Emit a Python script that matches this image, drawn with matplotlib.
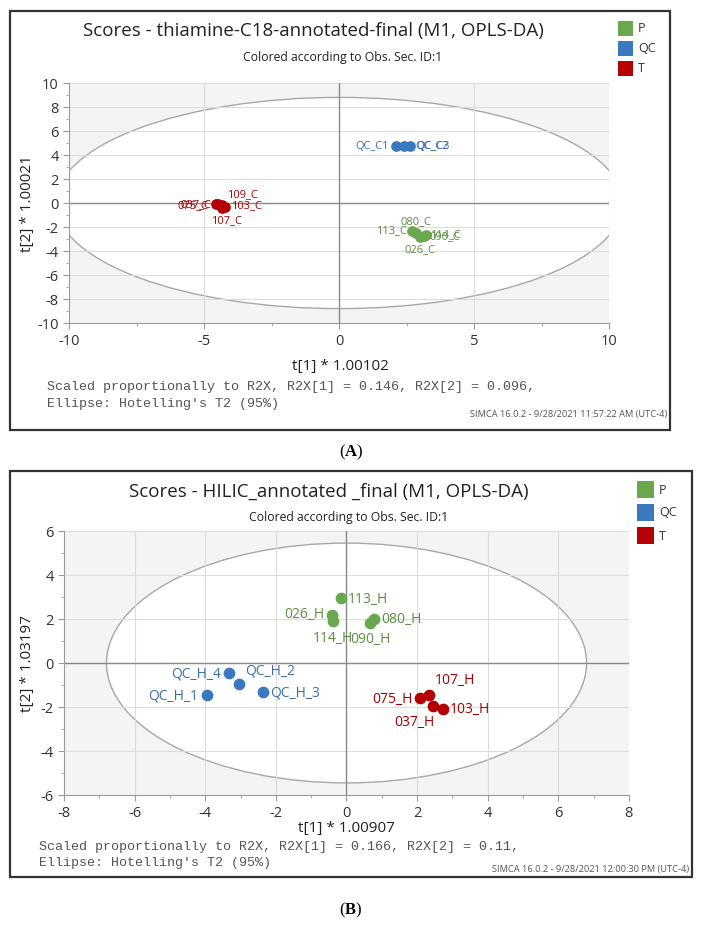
import numpy as np
import matplotlib
matplotlib.use('Agg')
from matplotlib import pyplot as plt
from matplotlib.patches import Ellipse, Rectangle

W, H = 702, 929

# colours of the three classes
class_names = ['P', 'QC', 'T']
class_colors = ['#6aa84f', '#3a78c0', '#b40000']

# panel A: thiamine-C18
c18_p_names = ['113_C', '080_C', '026_C', '090_C', '114_C']
c18_p_x = [2.7, 2.85, 3.0, 3.15, 3.2]
c18_p_y = [-2.35, -2.5, -2.8, -2.75, -2.7]
c18_qc_names = ['QC_C1', 'QC_C2', 'QC_C3']
c18_qc_x = [2.1, 2.4, 2.6]
c18_qc_y = [4.75, 4.75, 4.75]
c18_t_names = ['037_C', '075_C', '109_C', '103_C', '107_C']
c18_t_x = [-4.55, -4.5, -4.35, -4.25, -4.35]
c18_t_y = [-0.05, -0.1, -0.15, -0.35, -0.45]

# panel B: HILIC
hil_p_names = ['113_H', '026_H', '114_H', '080_H', '090_H']
hil_p_x = [-0.16, -0.42, -0.39, 0.79, 0.67]
hil_p_y = [2.94, 2.18, 1.92, 2.0, 1.8]
hil_qc_names = ['QC_H_4', 'QC_H_2', 'QC_H_1', 'QC_H_3']
hil_qc_x = [-3.32, -3.04, -3.96, -2.36]
hil_qc_y = [-0.47, -0.95, -1.45, -1.31]
hil_t_names = ['075_H', '107_H', '037_H', '103_H']
hil_t_x = [2.08, 2.33, 2.46, 2.73]
hil_t_y = [-1.6, -1.45, -1.97, -2.09]

plt.rcParams['font.family'] = ['Open Sans', 'DejaVu Sans']
plt.rcParams['mathtext.fontset'] = 'custom'
plt.rcParams['mathtext.rm'] = 'Liberation Serif'
plt.rcParams['mathtext.bf'] = 'Liberation Serif:bold'

fig = plt.figure(figsize=(W / 100, H / 100), dpi=100)


def fbox(l, t, r, b):
    return [l / W, 1 - b / H, (r - l) / W, (b - t) / H]


def ftext(x, y, s, **kw):
    fig.text(x / W, 1 - y / H, s, va='center', **kw)


def frame(l, t, r, b):
    fig.add_artist(Rectangle((l / W, 1 - b / H), (r - l) / W, (b - t) / H,
                             transform=fig.transFigure, fill=False,
                             ec='#333333', lw=1.6))


def legend(x, y0, step, size):
    for i, (n, c) in enumerate(zip(class_names, class_colors)):
        y = y0 + i * step
        fig.add_artist(Rectangle((x / W, 1 - (y + size / 2) / H), size / W, size / H,
                                 transform=fig.transFigure, fc=c, ec='none'))
        ftext(x + size + 5, y, n, fontsize=9, color='#333333')


def style_axes(ax, xlim, ylim, xmaj, xmin, ymaj, ymin, ell):
    ax.set_facecolor('#f4f4f4')
    ax.add_patch(Ellipse((0, 0), 2 * ell[0], 2 * ell[1], fc='white',
                         ec='#a8a8a8', lw=1.0, zorder=1))
    ax.set_xlim(*xlim)
    ax.set_ylim(*ylim)
    ax.set_xticks(np.arange(xlim[0], xlim[1] + 0.01, xmaj))
    ax.set_xticks(np.arange(xlim[0], xlim[1] + 0.01, xmin), minor=True)
    ax.set_yticks(np.arange(ylim[0], ylim[1] + 0.01, ymaj))
    ax.set_yticks(np.arange(ylim[0], ylim[1] + 0.01, ymin), minor=True)
    ax.set_xticklabels([f'{v:g}' for v in ax.get_xticks()])
    ax.set_yticklabels([f'{v:g}' for v in ax.get_yticks()])
    ax.grid(True, which='major', color='#dcdcdc', lw=0.8)
    ax.axhline(0, color='#8a8a8a', lw=1.0, zorder=1.6)
    ax.axvline(0, color='#8a8a8a', lw=1.0, zorder=1.6)
    for s in ['top', 'right']:
        ax.spines[s].set_visible(False)
    for s in ['left', 'bottom']:
        ax.spines[s].set_color('#9a9a9a')
    ax.tick_params(which='major', length=4, color='#9a9a9a', labelsize=10.5,
                   labelcolor='#333333')
    ax.tick_params(which='minor', length=2, color='#9a9a9a')


def label_points(ax, xs, ys, names, offsets, color, size):
    for x, y, n in zip(xs, ys, names):
        dx, dy, ha = offsets[n]
        ax.annotate(n, (x, y), xytext=(dx, dy), textcoords='offset points',
                    ha=ha, va='center', fontsize=size, color=color, zorder=4)


# ---------- panel A ----------
frame(10, 12, 670, 431)
ftext(313, 31, 'Scores - thiamine-C18-annotated-final (M1, OPLS-DA)', fontsize=13.5,
      ha='center', color='#222222')
ftext(343, 57, 'Colored according to Obs. Sec. ID:1', fontsize=8.8, ha='center',
      color='#222222')
legend(618, 29, 20, 15)

axA = fig.add_axes(fbox(69.3, 84, 609.3, 324))
style_axes(axA, (-10, 10), (-10, 10), 5, 2.5, 2, 1, (10.5, 8.8))
axA.scatter(c18_p_x, c18_p_y, s=45, color=class_colors[0], zorder=3)
axA.scatter(c18_qc_x, c18_qc_y, s=45, color=class_colors[1], zorder=3)
axA.scatter(c18_t_x, c18_t_y, s=45, color=class_colors[2], zorder=3)
offA = {
    '113_C': (-4, 1, 'right'), '080_C': (0, 9, 'center'), '026_C': (0, -9, 'center'),
    '090_C': (4, 0, 'left'), '114_C': (3, 1, 'left'),
    'QC_C1': (-5, 0, 'right'), 'QC_C2': (8, 0, 'left'), 'QC_C3': (5, 0, 'left'),
    '037_C': (-4, 0, 'right'), '075_C': (-7, 0, 'right'), '109_C': (4, 8, 'left'),
    '103_C': (5, 2, 'left'), '107_C': (3, -8, 'center'),
}
label_points(axA, c18_p_x, c18_p_y, c18_p_names, offA, '#5a8f3f', 8)
label_points(axA, c18_qc_x, c18_qc_y, c18_qc_names, offA, '#3a6fb0', 8)
label_points(axA, c18_t_x, c18_t_y, c18_t_names, offA, '#a80000', 8)

ftext(340, 367, 't[1] * 1.00102', fontsize=11, ha='center', color='#222222')
fig.text(28 / W, 1 - 204 / H, 't[2] * 1.00021', rotation=90, fontsize=11,
         ha='center', va='center', color='#222222')
ftext(47, 387, 'Scaled proportionally to R2X, R2X[1] = 0.146, R2X[2] = 0.096,',
      fontsize=9.6, family='Liberation Mono', color='#555555')
ftext(47, 404, "Ellipse: Hotelling's T2 (95%)", fontsize=9.6,
      family='Liberation Mono', color='#555555')
ftext(667, 414, 'SIMCA 16.0.2 - 9/28/2021 11:57:22 AM (UTC-4)', fontsize=6.7,
      ha='right', color='#555555')
ftext(351, 452, r'($\mathbf{A}$)', fontsize=12, ha='center', family='Liberation Serif')

# ---------- panel B ----------
frame(10, 472, 692, 878)
ftext(329, 492, 'Scores - HILIC_annotated _final (M1, OPLS-DA)', fontsize=13.5,
      ha='center', color='#222222')
ftext(349, 518, 'Colored according to Obs. Sec. ID:1', fontsize=8.8, ha='center',
      color='#222222')
legend(637, 490, 23, 17)

axB = fig.add_axes(fbox(64.1, 532, 628.9, 796))
style_axes(axB, (-8, 8), (-6, 6), 2, 1, 2, 1, (6.8, 5.45))
axB.scatter(hil_p_x, hil_p_y, s=55, color=class_colors[0], zorder=3)
axB.scatter(hil_qc_x, hil_qc_y, s=55, color=class_colors[1], zorder=3)
axB.scatter(hil_t_x, hil_t_y, s=55, color=class_colors[2], zorder=3)
offB = {
    '113_H': (5, 0, 'left'), '026_H': (-5, 1, 'right'), '114_H': (0, -12, 'center'),
    '080_H': (5, 0, 'left'), '090_H': (0, -11, 'center'),
    'QC_H_4': (-6, 0, 'right'), 'QC_H_2': (4, 10, 'left'), 'QC_H_1': (-6, 0, 'right'),
    'QC_H_3': (5, 0, 'left'),
    '075_H': (-5, 0, 'right'), '107_H': (4, 11, 'left'), '037_H': (-14, -11, 'center'),
    '103_H': (5, 0, 'left'),
}
label_points(axB, hil_p_x, hil_p_y, hil_p_names, offB, '#5a8f3f', 10)
label_points(axB, hil_qc_x, hil_qc_y, hil_qc_names, offB, '#3a6fb0', 10)
label_points(axB, hil_t_x, hil_t_y, hil_t_names, offB, '#a80000', 10)

ftext(346, 829, 't[1] * 1.00907', fontsize=11, ha='center', color='#222222')
fig.text(28 / W, 1 - 664 / H, 't[2] * 1.03197', rotation=90, fontsize=11,
         ha='center', va='center', color='#222222')
ftext(39, 847, 'Scaled proportionally to R2X, R2X[1] = 0.166, R2X[2] = 0.11,',
      fontsize=9.6, family='Liberation Mono', color='#555555')
ftext(39, 863, "Ellipse: Hotelling's T2 (95%)", fontsize=9.6,
      family='Liberation Mono', color='#555555')
ftext(689, 870, 'SIMCA 16.0.2 - 9/28/2021 12:00:30 PM (UTC-4)', fontsize=6.7,
      ha='right', color='#555555')
ftext(351, 910, r'($\mathbf{B}$)', fontsize=12, ha='center', family='Liberation Serif')

fig.savefig('out.png', dpi=100)
